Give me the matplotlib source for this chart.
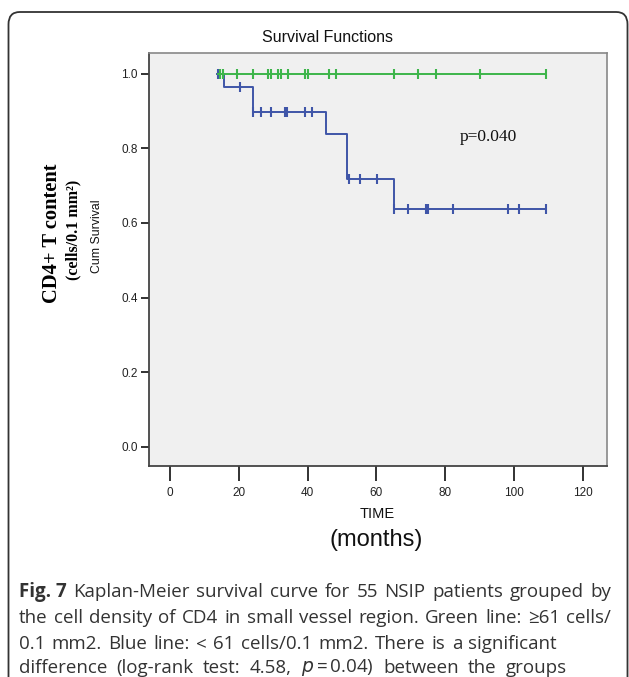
import numpy as np
import matplotlib.pyplot as plt
from matplotlib.patches import FancyBboxPatch

# blue group (< 61 cells/0.1 mm2): step curve
blue_t = [13.6, 15.8, 24.2, 45.2, 51.4, 65.2, 109.2]
blue_s = [1.0, 0.966, 0.897, 0.839, 0.718, 0.638, 0.638]
blue_cens = [14.0, 20.3, 24.2, 26.4, 29.4, 33.4, 34.1, 39.2, 41.3, 52.1, 55.2,
             60.3, 65.2, 69.3, 74.3, 75.1, 82.2, 98.2, 101.3, 109.2]

# green group (>= 61 cells/0.1 mm2): no events
green_t = [14.0, 109.2]
green_s = [1.0, 1.0]
green_cens = [14.5, 15.3, 19.4, 24.2, 28.6, 29.3, 31.5, 32.2, 34.2, 39.2, 40.0,
              46.3, 48.3, 65.2, 72.2, 77.3, 90.1, 109.2]

xticks = [0, 20, 40, 60, 80, 100, 120]
yticks = [0.0, 0.2, 0.4, 0.6, 0.8, 1.0]

BLUE = '#3F55A8'
GREEN = '#3DB54A'

W, H = 629, 677
fig = plt.figure(figsize=(W / 100, H / 100), dpi=100)

# rounded frame
frame = FancyBboxPatch((8.5 / W, -0.05), (627.5 - 8.5) / W, 1.05 - 12 / H,
                       boxstyle='round,pad=0,rounding_size=0.018',
                       transform=fig.transFigure, fill=False,
                       edgecolor='#333333', linewidth=1.3)
fig.patches.append(frame)

ax = fig.add_axes([149 / W, 1 - 466 / H, (607 - 149) / W, (466 - 53) / H])
ax.set_facecolor('#F0F0F0')

ax.plot(blue_t, blue_s, drawstyle='steps-post', color=BLUE, lw=1.4)
idx = np.searchsorted(blue_t, blue_cens, side='right') - 1
ax.plot(blue_cens, np.array(blue_s)[idx], ls='none', marker='|', ms=6.5,
        mew=1.5, color=BLUE)

ax.plot(green_t, green_s, color=GREEN, lw=1.4)
ax.plot(green_cens, np.ones(len(green_cens)), ls='none', marker='|', ms=6.5,
        mew=1.5, color=GREEN)

ax.set_xlim(-6.1, 127)
ax.set_ylim(-0.052, 1.056)
ax.set_xticks(xticks)
ax.set_yticks(yticks)
ax.set_yticklabels(['%.1f' % v for v in yticks])
ax.tick_params(axis='x', direction='out', length=11, width=1.3, pad=4,
               labelsize=8.5, colors='#222222')
ax.tick_params(axis='y', direction='out', length=6, width=1.3, pad=2,
               labelsize=8.5, colors='#222222')
for lab in ax.get_xticklabels() + ax.get_yticklabels():
    lab.set_family('Liberation Sans')
for s in ['left', 'bottom']:
    ax.spines[s].set_color('#444444')
    ax.spines[s].set_linewidth(1.3)
for s in ['top', 'right']:
    ax.spines[s].set_color('#888888')
    ax.spines[s].set_linewidth(1.2)

ax.text(84.3, 0.831, 'p=0.040', fontsize=12.5, family='Liberation Serif',
        va='center', ha='left', color='#111111')

# titles and labels
fig.text(327 / W, 1 - 37 / H, 'Survival Functions', fontsize=11.5,
         family='Liberation Sans', ha='center', va='center', color='#111111')
fig.text(377 / W, 1 - 514 / H, 'TIME', fontsize=10.5, family='Liberation Sans',
         ha='center', va='center', color='#111111')
fig.text(376 / W, 1 - 540 / H, '(months)', fontsize=17,
         family='Liberation Sans', ha='center', va='center', color='#111111')
fig.text(52 / W, 1 - 233 / H, 'CD4+ T content', fontsize=14.8,
         family='Liberation Serif', weight='bold', rotation=90,
         ha='center', va='center')
fig.text(73 / W, 1 - 230 / H, '(cells/0.1 mm²)', fontsize=11.5,
         family='Liberation Serif', weight='bold', rotation=90,
         ha='center', va='center')
fig.text(97 / W, 1 - 236 / H, 'Cum Survival', fontsize=8.8,
         family='Liberation Sans', rotation=90, ha='center', va='center',
         color='#111111')

# caption, justified word by word
caption = [
    ([('Fig. 7', 'bold', 'normal'), ('Kaplan-Meier', 'normal', 'normal'),
      ('survival', 'normal', 'normal'), ('curve', 'normal', 'normal'),
      ('for', 'normal', 'normal'), ('55', 'normal', 'normal'),
      ('NSIP', 'normal', 'normal'), ('patients', 'normal', 'normal'),
      ('grouped', 'normal', 'normal'), ('by', 'normal', 'normal')], 611),
    ([(w, 'normal', 'normal') for w in
      'the cell density of CD4 in small vessel region. Green line: ≥61 cells/'.split()], 611),
    ([(w, 'normal', 'normal') for w in
      '0.1 mm2. Blue line: < 61 cells/0.1 mm2. There is a significant'.split()], 557),
    ([(w, 'normal', 'normal') for w in
      'difference (log-rank test: 4.58,'.split()] +
     [('p\u2009=\u20090.04)', 'normal', 'normal')] +
     [(w, 'normal', 'normal') for w in 'between the groups'.split()], 567),
]
line_y = [592, 618, 644, 668]

renderer = fig.canvas.get_renderer()
for (words, x_end), yy in zip(caption, line_y):
    items = []
    for w, wt, st in words:
        if w.startswith('p\u2009'):
            w = r'$p$' + w[1:]
        t = fig.text(0, 1 - yy / H, w, fontsize=13.5, family='Open Sans',
                     weight=wt, style=st, ha='left', va='center',
                     color='#333333')
        items.append(t)
    widths = [t.get_window_extent(renderer).width for t in items]
    x0 = 19
    gap = (x_end - x0 - sum(widths)) / (len(items) - 1)
    x = x0
    for t, wd in zip(items, widths):
        t.set_x(x / W)
        x += wd + gap

fig.savefig('out.png', dpi=100)
